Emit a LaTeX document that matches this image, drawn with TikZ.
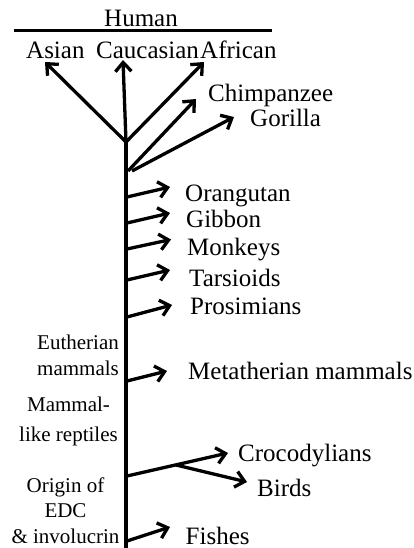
\documentclass[tikz,border=0pt]{standalone}
\usepackage{fontspec}
\setmainfont{Liberation Serif}
\usetikzlibrary{arrows.meta}
\tikzset{
  lbl/.style={inner sep=0pt, anchor=base west, font=\fontsize{25}{28}\selectfont},
  lft/.style={inner sep=0pt, anchor=base, align=center, font=\fontsize{21}{25.5}\selectfont},
  br/.style={line width=3.3pt, -{Straight Barb[length=9pt,width=16pt]}},
  ln/.style={line width=3pt},
  trunk/.style={line width=4pt},
}
\begin{document}
\begin{tikzpicture}[x=1pt,y=-1pt]
\useasboundingbox (0,0) rectangle (413,548);
% top
\node[lbl, anchor=base] (human) at (141,27) {Human};
\coordinate (hl) at (14,31);
\coordinate (hr) at (272,31);
\draw[ln] (hl) -- (hr);
\node[lbl] (asian) at (26,59) {Asian};
\node[lbl] (cauc) at (96,59) {Caucasian};
\node[lbl] (afr) at (200,59) {African};
\node[lbl] (chimp) at (208,102) {Chimpanzee};
\node[lbl] (gor) at (250,127) {Gorilla};
% trunk
\coordinate (top) at (126,142);
\coordinate (bot) at (126,548);
\draw[trunk] (top) -- (bot);
\coordinate (tA) at (45,62);
\coordinate (tC) at (123,60);
\coordinate (tF) at (204,62);
\draw[br] (top) -- (tA);
\draw[br] (top) -- (tC);
\draw[br] (top) -- (tF);
\coordinate (sCh) at (128,171);
\coordinate (tCh) at (196,99);
\coordinate (sGo) at (132,171);
\coordinate (tGo) at (234,117);
\draw[br] (sCh) -- (tCh);
\draw[br] (sGo) -- (tGo);
% primates
\node[lbl] (orang) at (185,201.7) {Orangutan};
\node[lbl] (gib) at (186,227.3) {Gibbon};
\node[lbl] (monk) at (187,255) {Monkeys};
\node[lbl] (tars) at (189,286) {Tarsioids};
\node[lbl] (pros) at (190,314.5) {Prosimians};
\coordinate (s1) at (127,197); \coordinate (t1) at (170,187);
\coordinate (s2) at (127,223); \coordinate (t2) at (170,213);
\coordinate (s3) at (127,249); \coordinate (t3) at (171,239.5);
\coordinate (s4) at (127,280); \coordinate (t4) at (170,270);
\coordinate (s5) at (127,317); \coordinate (t5) at (172,305);
\draw[br] (s1) -- (t1);
\draw[br] (s2) -- (t2);
\draw[br] (s3) -- (t3);
\draw[br] (s4) -- (t4);
\draw[br] (s5) -- (t5);
% left labels
\node[lft] (euth) at (78,375) {Eutherian\\mammals};
\node[lft] (mlr) at (68.5,441.7) {Mammal-\\[4.5pt]like reptiles};
\node[lft] (orig) at (65.5,543) {Origin of\\EDC\\\& involucrin};
% lower branches
\node[lbl] (meta) at (188,379) {Metatherian mammals};
\coordinate (s6) at (127,381); \coordinate (t6) at (167,371);
\draw[br] (s6) -- (t6);
\node[lbl] (croc) at (238,461.7) {Crocodylians};
\node[lbl] (bird) at (257,496.7) {Birds};
\coordinate (s7) at (127,476); \coordinate (t7) at (228,453);
\coordinate (s8) at (176,465); \coordinate (t8) at (247,482);
\draw[br] (s7) -- (t7);
\draw[br] (s8) -- (t8);
\node[lbl] (fish) at (185.5,544.3) {Fishes};
\coordinate (s9) at (127,541); \coordinate (t9) at (170,527);
\draw[br] (s9) -- (t9);
\end{tikzpicture}
\end{document}
